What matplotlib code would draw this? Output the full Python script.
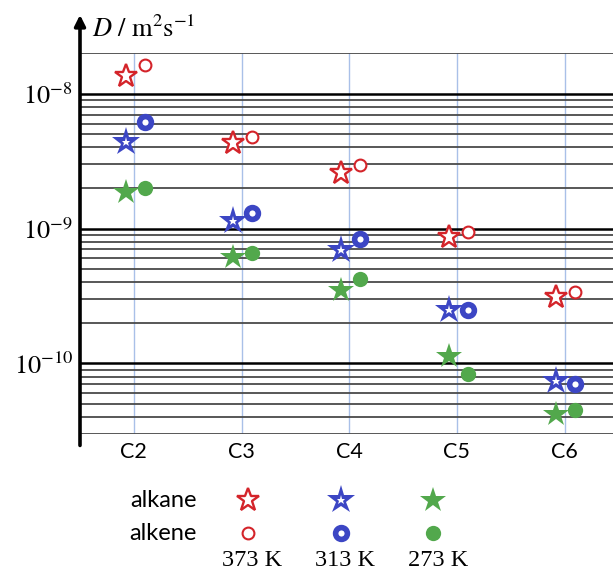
import numpy as np
import matplotlib
matplotlib.use('Agg')
import matplotlib.pyplot as plt
from matplotlib.ticker import LogLocator, NullFormatter, FixedLocator, FuncFormatter

plt.rcParams['mathtext.fontset'] = 'stix'

# data (D in m^2/s)
carbons = ['C2', 'C3', 'C4', 'C5', 'C6']
temps = ['373 K', '313 K', '273 K']
rows = ['alkane', 'alkene']

alkane_373 = [1.34e-8, 4.3e-9, 2.6e-9, 8.6e-10, 3.1e-10]
alkene_373 = [1.64e-8, 4.8e-9, 2.98e-9, 9.5e-10, 3.36e-10]
alkane_313 = [4.35e-9, 1.13e-9, 6.9e-10, 2.47e-10, 7.4e-11]
alkene_313 = [6.2e-9, 1.31e-9, 8.4e-10, 2.51e-10, 7.1e-11]
alkane_273 = [1.88e-9, 6.1e-10, 3.5e-10, 1.13e-10, 4.2e-11]
alkene_273 = [2.0e-9, 6.6e-10, 4.25e-10, 8.4e-11, 4.55e-11]

RED = '#d4242a'
BLUE = '#3c46c4'
GREEN = '#52a84c'

# marker styles per temperature: star (alkane) and circle (alkene)
star_styles = [
    dict(marker='*', ms=17, mfc='white', mec=RED, mew=1.7),
    dict(marker='*', ms=21, mfc=BLUE, mec=BLUE, mew=0),
    dict(marker='*', ms=19, mfc=GREEN, mec=GREEN, mew=0),
]
inner_star = dict(marker='*', ms=6.5, mfc='white', mec='white', mew=0)
circle_styles = [
    dict(marker='o', ms=8.5, mfc='white', mec=RED, mew=1.5),
    dict(marker='o', ms=8.5, mfc='white', mec=BLUE, mew=4),
    dict(marker='o', ms=11, mfc=GREEN, mec=GREEN, mew=0),
]

alkanes = [alkane_373, alkane_313, alkane_273]
alkenes = [alkene_373, alkene_313, alkene_273]

fig = plt.figure(figsize=(6.13, 5.73), dpi=100)
ax = fig.add_axes([80 / 613, 1 - 434 / 573, 533 / 613, 381 / 573])

x = np.arange(len(carbons))
star_off = -0.075
circ_off = 0.1

for i in range(3):
    ax.plot(x + star_off, alkanes[i], ls='none', zorder=3, **star_styles[i])
    if i == 1:
        ax.plot(x + star_off, alkanes[i], ls='none', zorder=4, **inner_star)
    ax.plot(x + circ_off, alkenes[i], ls='none', zorder=3, **circle_styles[i])

ax.set_yscale('log')
ax.set_ylim(3e-11, 2e-8)
ax.set_xlim(-0.5, 4.45)

ax.yaxis.set_major_locator(FixedLocator([1e-10, 1e-9, 1e-8]))
ax.yaxis.set_major_formatter(FuncFormatter(lambda v, p: r'$10^{%d}$' % round(np.log10(v))))
ax.yaxis.set_minor_locator(LogLocator(base=10, subs=np.arange(2, 10)))
ax.yaxis.set_minor_formatter(NullFormatter())
ax.set_xticks(x)
ax.set_xticklabels(carbons, family='Lato', fontsize=15.5)

ax.grid(axis='y', which='major', color='black', lw=1.8)
ax.grid(axis='y', which='minor', color='#4a4a4a', lw=1.3)
ax.grid(axis='x', which='major', color='#a9c0e8', lw=1.0)
ax.set_axisbelow(True)

ax.tick_params(axis='both', which='both', length=0)
ax.tick_params(axis='y', which='major', labelsize=19, pad=5)
ax.tick_params(axis='x', pad=6)
for s in ax.spines.values():
    s.set_visible(False)

# left axis drawn as arrow
ax.annotate('', xy=(0, 1.10), xytext=(0, -0.03), xycoords='axes fraction',
            arrowprops=dict(arrowstyle='-|>', color='black', lw=2.6,
                            mutation_scale=16, shrinkA=0, shrinkB=0),
            annotation_clip=False)
ax.text(0.022, 1.06, r'$D\ /\ \mathrm{m^2s^{-1}}$', transform=ax.transAxes,
        fontsize=19, ha='left', va='center')

# legend block below the plot
lax = fig.add_axes([155 / 613, 0, 371 / 613, 92 / 573])
lax.set_xlim(-1, 3)
lax.set_ylim(-1.21, 1.576)
lax.axis('off')
lx = np.arange(len(temps))
for i in range(3):
    lax.plot([lx[i]], [1], ls='none', **star_styles[i])
    if i == 1:
        lax.plot([lx[i]], [1], ls='none', **inner_star)
    lax.plot([lx[i]], [0], ls='none', **circle_styles[i])
    lax.text(lx[i] + 0.05, -0.82, temps[i], family='Liberation Serif',
             fontsize=17.5, ha='center', va='center')
for j, name in enumerate(rows):
    lax.text(-0.55, 1 - j, name, family='Lato', fontsize=17, ha='right', va='center')

fig.savefig('out.png', dpi=100)
